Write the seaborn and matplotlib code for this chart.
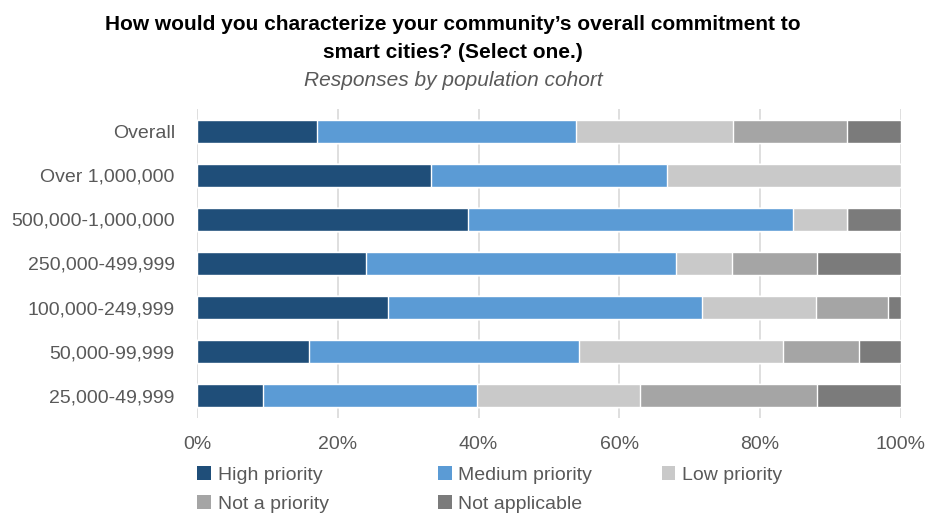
import matplotlib.pyplot as plt
import pandas as pd
import seaborn as sns
from matplotlib.patches import Patch
from matplotlib.ticker import PercentFormatter

cohorts = [
    "Overall",
    "Over 1,000,000",
    "500,000-1,000,000",
    "250,000-499,999",
    "100,000-249,999",
    "50,000-99,999",
    "25,000-49,999",
]
categories = ["High priority", "Medium priority", "Low priority", "Not a priority", "Not applicable"]
high = [17.1, 33.3, 38.5, 24.0, 27.2, 15.9, 9.4]
medium = [36.8, 33.4, 46.1, 44.0, 44.6, 38.3, 30.4]
low = [22.3, 33.3, 7.7, 8.0, 16.2, 29.1, 23.1]
not_priority = [16.1, 0.0, 0.0, 12.1, 10.1, 10.8, 25.2]
not_applicable = [7.7, 0.0, 7.7, 11.9, 1.9, 5.9, 11.9]
colors = ["#1F4E79", "#5B9BD5", "#C9C9C9", "#A5A5A5", "#7B7B7B"]

data = pd.DataFrame(
    {
        "Cohort": cohorts,
        "High priority": high,
        "Medium priority": medium,
        "Low priority": low,
        "Not a priority": not_priority,
        "Not applicable": not_applicable,
    }
)
cum = data[categories].cumsum(axis=1)

sns.set_style("white")
plt.rcParams["font.family"] = ["Liberation Sans", "DejaVu Sans"]

fig = plt.figure(figsize=(9.25, 5.19), dpi=100)
ax = fig.add_axes([0.213, 0.195, 0.761, 0.595])

# draw from the full stack down so shorter stacks sit on top
for cat, color in reversed(list(zip(categories, colors))):
    sns.barplot(
        x=cum[cat],
        y=data["Cohort"],
        color=color,
        width=0.52,
        orient="h",
        saturation=1,
        ax=ax,
        zorder=3,
    )

ax.set_xlim(0, 100)
ax.set_xticks([0, 20, 40, 60, 80, 100])
ax.xaxis.set_major_formatter(PercentFormatter(decimals=0))
ax.grid(axis="x", color="#D9D9D9", linewidth=1.2, zorder=0)
ax.set_axisbelow(True)
for side in ["top", "right", "bottom", "left"]:
    ax.spines[side].set_visible(False)
ax.set_xlabel("")
ax.set_ylabel("")
ax.tick_params(axis="both", length=0, labelsize=14, labelcolor="#595959")
ax.tick_params(axis="x", pad=13)
ax.tick_params(axis="y", pad=16)

fig.text(
    0.49, 0.972,
    "How would you characterize your community’s overall commitment to\nsmart cities? (Select one.)",
    ha="center", va="top", fontsize=15, fontweight="bold", color="black",
    linespacing=1.6,
)
fig.text(
    0.49, 0.845, "Responses by population cohort",
    ha="center", va="center", fontsize=15, style="italic", color="#595959",
)

# one legend per column so the columns line up like the reference
columns = [[0, 3], [1, 4], [2]]
col_x = [0.2135, 0.4735, 0.7155]
for idx, x0 in zip(columns, col_x):
    leg = fig.legend(
        [Patch(facecolor=colors[i], edgecolor="none") for i in idx],
        [categories[i] for i in idx],
        loc="upper left",
        bbox_to_anchor=(x0, 0.102),
        frameon=False,
        fontsize=14,
        labelcolor="#595959",
        handlelength=0.7,
        handleheight=0.7,
        handletextpad=0.35,
        labelspacing=0.6,
        borderpad=0,
        borderaxespad=0,
    )

plt.savefig("out.png", dpi=100)
